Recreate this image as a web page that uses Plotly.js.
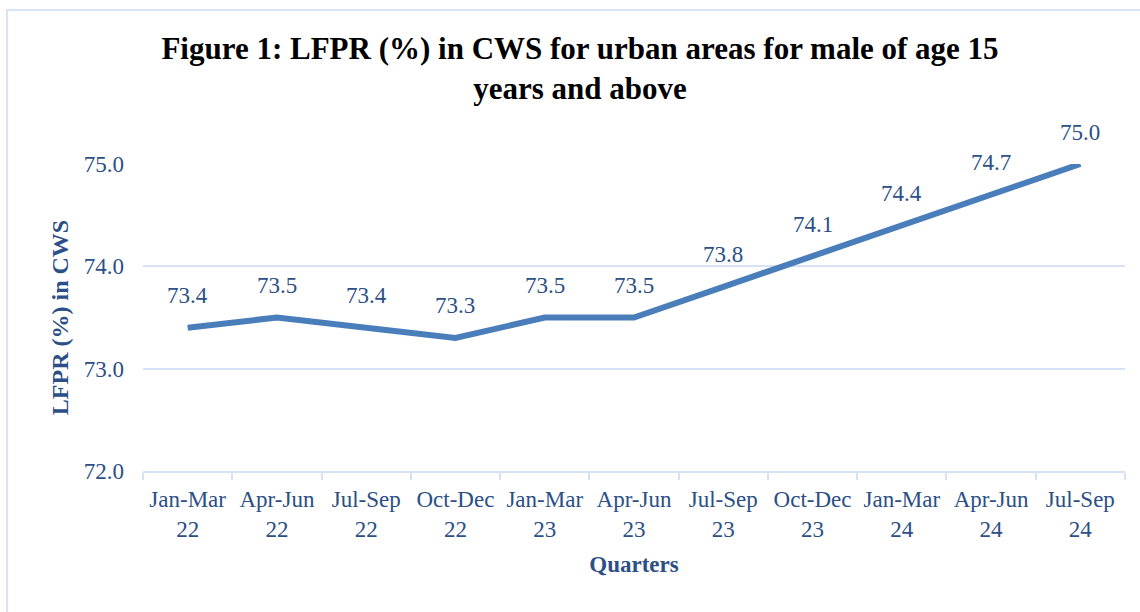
<!DOCTYPE html>
<html>
<head>
<meta charset="utf-8">
<script src="https://cdn.plot.ly/plotly-3.0.1.min.js"></script>
<style>
html,body{margin:0;padding:0;background:#fff;}
#chart{width:1140px;height:612px;}
</style>
</head>
<body>
<div id="chart"></div>
<script>
const quarters = ["Jan-Mar<br>22","Apr-Jun<br>22","Jul-Sep<br>22","Oct-Dec<br>22","Jan-Mar<br>23","Apr-Jun<br>23","Jul-Sep<br>23","Oct-Dec<br>23","Jan-Mar<br>24","Apr-Jun<br>24","Jul-Sep<br>24"];
const lfpr = [73.4, 73.5, 73.4, 73.3, 73.5, 73.5, 73.8, 74.1, 74.4, 74.7, 75.0];
const yTicks = [72, 73, 74, 75];

const textColor = "#2B4F86";
const lineColor = "#4A7EBB";
const gridColor = "#D6E2F3";
const fontFam = "'Liberation Serif', 'Times New Roman', serif";

const trace = {
  x: quarters,
  y: lfpr,
  type: "scatter",
  mode: "lines",
  line: {color: lineColor, width: 6},
  cliponaxis: false,
  hoverinfo: "x+y"
};

const annotations = lfpr.map((v, i) => ({
  x: quarters[i], y: v, xref: "x", yref: "y",
  text: v.toFixed(1), showarrow: false, yshift: 32,
  font: {family: fontFam, size: 23, color: textColor}
}));

const layout = {
  width: 1140, height: 612,
  margin: {l: 143, r: 15, t: 164, b: 141},
  paper_bgcolor: "#fff", plot_bgcolor: "#fff",
  showlegend: false,
  font: {family: fontFam, color: textColor},
  title: {
    text: "<b>Figure 1: LFPR (%) in CWS for urban areas for male of age 15<br>years and above</b>",
    font: {family: fontFam, size: 31, color: "#000"},
    xref: "container", x: 580/1140, xanchor: "center",
    yref: "container", y: 1 - 59/612, yanchor: "top"
  },
  xaxis: {
    type: "category",
    range: [-0.5, 10.5],
    showgrid: false,
    showline: true, linecolor: gridColor, linewidth: 2,
    ticks: "outside", ticklen: 7, tickcolor: gridColor, tickwidth: 2,
    tickson: "boundaries",
    ticklabelstandoff: 6,
    tickfont: {family: fontFam, size: 23, color: textColor},
    title: {text: "<b>Quarters</b>", font: {family: fontFam, size: 23, color: textColor}, standoff: 15},
    fixedrange: true
  },
  yaxis: {
    range: [72, 75],
    tickvals: yTicks,
    tickformat: ".1f",
    showgrid: true, gridcolor: gridColor, gridwidth: 2,
    zeroline: false, showline: false,
    ticks: "", ticklabelstandoff: 18,
    tickfont: {family: fontFam, size: 23, color: textColor},
    title: {text: "<b>LFPR (%) in CWS</b>", font: {family: fontFam, size: 24, color: textColor}, standoff: 8},
    fixedrange: true
  },
  annotations: annotations,
  shapes: [{
    type: "rect", xref: "paper", yref: "paper",
    x0: (7-143)/982, x1: (1142-143)/982,
    y0: (471-615)/307, y1: (471-10)/307,
    line: {color: "#D9E5F4", width: 2}, fillcolor: "rgba(0,0,0,0)", layer: "below"
  }]
};

Plotly.newPlot("chart", [trace], layout, {displayModeBar: false, staticPlot: true});
</script>
</body>
</html>
